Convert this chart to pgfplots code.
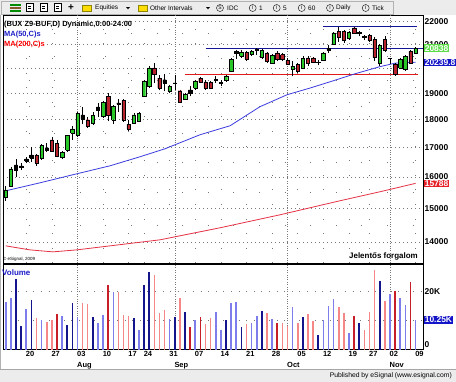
\documentclass[border=0pt]{standalone}
\usepackage{pgfplots}
\pgfplotsset{compat=1.18}
\usepackage{pgfplotstable}
\usepackage{fontspec}
\setmainfont{Liberation Sans}

\definecolor{cgreen}{RGB}{40,200,40}
\definecolor{cred}{RGB}{185,35,45}
\definecolor{ma50}{RGB}{60,60,225}
\definecolor{ma200}{RGB}{230,50,70}
\definecolor{hblue}{RGB}{20,20,150}
\definecolor{hred}{RGB}{225,25,25}
\definecolor{vlb}{RGB}{125,125,235}
\definecolor{vdb}{RGB}{20,20,140}
\definecolor{vlr}{RGB}{245,135,135}
\definecolor{vdr}{RGB}{200,30,40}
\definecolor{gridc}{RGB}{120,120,120}
\definecolor{barbg}{RGB}{236,236,236}
\definecolor{boxgreen}{RGB}{90,220,70}
\definecolor{boxblue}{RGB}{20,20,200}
\definecolor{boxred}{RGB}{230,30,40}
\definecolor{txtblue}{RGB}{30,30,200}

\pgfplotstableread{
i o h l c t
0 15350 15690 15230 15580 1
1 15709 16334 15677 16267 1
2 16234 16604 16002 16401 0
3 16334 16468 16234 16367 0
4 16536 16673 16468 16604 0
5 16638 17019 16502 16741 0
6 16741 16775 16367 16468 2
7 16628 17113 16570 17064 1
8 16914 17159 16844 16984 0
9 17265 17346 16855 16879 2
10 17147 17265 16649 16683 2
11 16649 16879 16604 16834 1
12 16914 17443 16855 17418 1
13 17515 17743 17265 17659 1
14 17418 18287 17372 18238 1
15 18026 18473 17842 18175 0
16 17989 18100 17696 17744 2
17 17866 18287 17805 18149 1
18 18362 18628 18100 18476 0
19 18112 18705 18063 18655 1
20 18871 19003 17926 18175 2
21 17989 18552 17842 18489 1
22 18590 18782 18276 18628 0
23 18705 18782 17915 17989 2
24 17830 17989 17587 17659 2
25 17866 18238 17830 18175 1
26 17926 18276 17903 18238 1
27 18871 19529 18860 19489 1
28 19263 20071 19200 20004 1
29 20004 20209 19397 19731 2
30 19597 19731 19105 19200 2
31 19409 19759 19066 19529 0
32 19066 19330 19015 19263 1
33 19370 19731 19132 19409 0
34 19093 19132 18617 18655 2
35 18782 19003 18743 18964 1
36 19015 19263 18871 19132 0
37 19200 19529 19132 19489 1
38 19597 19624 19397 19437 2
39 19449 19529 19132 19200 2
40 19421 19461 19172 19200 2
41 19509 19662 19397 19549 0
42 19370 19529 19263 19429 0
43 19501 19731 19449 19690 1
44 19864 20419 19840 20348 1
45 20600 20770 20390 20685 0
46 20487 20770 20419 20655 1
47 20655 20727 20306 20348 2
48 20558 20770 20516 20698 1
49 20727 20843 20558 20770 0
50 20445 20813 20390 20727 1
51 20629 20672 20209 20278 2
52 20209 20600 20181 20529 1
53 20629 20698 20278 20348 2
54 20558 20629 20278 20348 2
55 20306 20419 20140 20168 2
56 19975 20278 19662 20078 1
57 20140 20209 19812 19864 2
58 20004 20487 19975 20390 1
59 20419 20487 20099 20209 2
60 20419 20445 20209 20251 2
61 20223 20348 20112 20251 0
62 20306 20672 20278 20629 1
63 20748 20985 20642 20834 0
64 21015 21552 20985 21494 1
65 21552 21744 21114 21288 2
66 21565 21641 21071 21158 2
67 21245 21596 21201 21538 1
68 21715 21775 21464 21494 2
69 21464 21596 21346 21508 0
70 21288 21420 21201 21332 0
71 21390 21464 21114 21158 2
72 21201 21310 20306 20431 2
73 20181 21006 20099 20942 1
74 21201 21346 20685 20740 2
75 20410 20419 20181 20390 0
76 20140 20209 19690 19731 2
77 20004 20431 19975 20348 1
78 19934 20558 19893 20487 1
79 20698 20757 20181 20209 2
80 20629 20865 20600 20838 1
}\candles

\pgfplotstableread{
i v k
0 16.5 1
1 17.7 1
2 24.4 2
3 8.1 2
4 14.0 1
5 17.1 2
6 10.8 3
7 10.2 1
8 9.4 3
9 10.2 3
10 12.3 4
11 11.6 1
12 8.5 2
13 16.0 2
14 11.4 1
15 16.2 3
16 15.7 3
17 11.4 2
18 9.1 1
19 11.9 1
20 22.3 4
21 20.0 1
22 20.0 3
23 11.9 3
24 11.6 3
25 10.8 2
26 6.7 1
27 22.3 2
28 26.9 2
29 25.8 3
30 12.7 3
31 13.7 3
32 10.4 1
33 11.1 2
34 17.7 3
35 12.9 2
36 7.9 4
37 10.2 1
38 11.1 4
39 8.8 3
40 10.8 3
41 12.9 1
42 6.7 1
43 10.2 2
44 16.0 1
45 16.5 1
46 7.9 2
47 8.8 3
48 9.3 1
49 11.7 1
50 13.3 2
51 12.5 3
52 10.4 1
53 9.1 4
54 9.3 3
55 8.1 3
56 14.6 1
57 9.3 3
58 11.4 2
59 12.3 3
60 10.0 3
61 5.0 2
62 10.2 1
63 15.1 1
64 17.5 1
65 14.8 3
66 12.7 3
67 5.6 1
68 11.6 4
69 9.1 2
70 6.7 3
71 13.1 3
72 27.5 3
73 23.7 2
74 16.9 3
75 19.1 1
76 20.2 4
77 17.7 1
78 15.4 1
79 23.2 4
80 10.25 1
}\vol

\newcommand\drawcandle[1]{%
  \pgfplotstablegetelem{#1}{o}\of\candles \edef\vo{\pgfplotsretval}%
  \pgfplotstablegetelem{#1}{h}\of\candles \edef\vh{\pgfplotsretval}%
  \pgfplotstablegetelem{#1}{l}\of\candles \edef\vl{\pgfplotsretval}%
  \pgfplotstablegetelem{#1}{c}\of\candles \edef\vc{\pgfplotsretval}%
  \pgfplotstablegetelem{#1}{t}\of\candles \edef\vt{\pgfplotsretval}%
  \pgfmathsetmacro\xa{#1-0.33}\pgfmathsetmacro\xb{#1+0.33}%
  \ifcase\vt\relax \def\bc{black}\or \def\bc{cgreen}\or \def\bc{cred}\fi
  \edef\temp{\noexpand\addplot[black, line width=0.6bp, forget plot] coordinates {(#1,\vl) (#1,\vh)};
    \noexpand\addplot[draw=black, fill=\bc, line width=0.45bp, forget plot] coordinates {(\xa,\vo) (\xb,\vo) (\xb,\vc) (\xa,\vc) (\xa,\vo)};}%
  \temp
}

\begin{document}
\begin{tikzpicture}
\useasboundingbox (0,0) rectangle (456bp,-382bp);
\fill[white] (0,0) rectangle (456bp,-382bp);
% toolbar
\fill[barbg] (0,0) rectangle (456bp,-15bp);
\draw[gray!60, line width=0.5bp] (1bp,-0.8bp) rectangle (393bp,-14.2bp);
\fill[green!55!black] (10bp,-3.5bp) rectangle (21bp,-5.5bp);
\fill[brown!70!black] (10bp,-6.5bp) rectangle (21bp,-8.5bp);
\fill[green!55!black] (10bp,-9.5bp) rectangle (21bp,-11.5bp);
\foreach \xx in {26,40,54}{\draw[black, line width=0.5bp, fill=white] (\xx bp,-3.5bp) rectangle ++(7bp,-8bp);
  \draw[black, line width=0.4bp] ([xshift=2bp,yshift=-3bp]\xx bp,-3.5bp) -- ++(3bp,0) ([xshift=2bp,yshift=-5bp]\xx bp,-3.5bp) -- ++(3bp,0);}
\node[font=\bfseries\fontsize{10}{10}\selectfont] at (71bp,-7.6bp) {+};
\fill[yellow!80!orange, draw=olive, line width=0.4bp] (82bp,-5bp) rectangle (91bp,-11.5bp);
\node[anchor=west, inner sep=0, font=\fontsize{6.5}{7}\selectfont] at (95bp,-8bp) {Equities};
\fill[black] (126bp,-7bp) -- (130bp,-7bp) -- (128bp,-9.3bp) -- cycle;
\fill[yellow!80!orange, draw=olive, line width=0.4bp] (138bp,-5bp) rectangle (147bp,-11.5bp);
\node[anchor=west, inner sep=0, font=\fontsize{6.5}{7}\selectfont] at (150bp,-8bp) {Other Intervals};
\fill[black] (206bp,-7bp) -- (210bp,-7bp) -- (208bp,-9.3bp) -- cycle;
\foreach \cx/\lt/\tx/\tt in {220/S/227/IDC, 252.7/I/259/1, 276.7/I/283/5, 301.7/I/308/60, 330/I/336/Daily, 365.7/I/372/Tick}{
  \node[circle, draw, line width=0.4bp, inner sep=0pt, minimum size=7bp, font=\fontsize{5}{5}\selectfont] at (\cx bp,-8bp) {\lt};
  \node[anchor=west, inner sep=0, font=\fontsize{6.5}{7}\selectfont] at (\tx bp,-8bp) {\tt};
}
% status bar
\fill[barbg] (0,-369bp) rectangle (456bp,-382bp);
\draw[gray!70, line width=0.5bp] (0,-369bp) -- (456bp,-369bp);
\node[anchor=east, inner sep=0, font=\fontsize{6.8}{8}\selectfont] at (452bp,-376bp) {Published by eSignal (www.esignal.com)};
\draw[gray!60, line width=0.6bp] (0.6bp,-15bp) -- (0.6bp,-369bp);

\begin{axis}[
  at={(3bp,-263bp)}, anchor=south west, scale only axis,
  width=420.3bp, height=248bp,
  xmin=-0.53, xmax=81.5,
  ymode=log, ymin=13409, ymax=22304,
  axis line style={black, line width=0.7bp},
  tick style={draw=none},
  ytick={14000,15000,16000,17000,18000,19000,20000,21000,22000},
  yticklabels={\textbf{14000},\textbf{15000},\textbf{16000},\textbf{17000},\textbf{18000},\textbf{19000},,\textbf{21000},\textbf{22000}},
  yticklabel pos=right,
  yticklabel style={font=\fontsize{8.5}{9}\selectfont, anchor=west, inner sep=0pt, xshift=1.2bp},
  minor ytick={14500,15500,16500,17500,18500,19500,20500,21500},
  ymajorgrids, yminorgrids,
  major y grid style={gridc, line width=0.6bp, dash pattern=on 0.6bp off 3.4bp},
  minor y grid style={gridc, line width=0.6bp, dash pattern=on 0.6bp off 25bp},
  xtick={4,9,19,24,27,32,37,42,47,52,57,62,67,71,80},
  xticklabels={},
  xmajorgrids,
  major x grid style={gridc, line width=0.6bp, dash pattern=on 0.6bp off 14bp},
  extra x ticks={14,33,55,75},
  extra x tick labels={},
  extra x tick style={grid=major, major x grid style={gridc, line width=0.6bp, dash pattern=on 0.6bp off 1.8bp}},
]
\addplot[hblue, line width=1bp, forget plot] coordinates {(62,21788) (80.2,21788)};
\addplot[hblue, line width=1bp, forget plot] coordinates {(39,20840) (81.5,20840)};
\addplot[hred, line width=1bp, forget plot] coordinates {(35,19720) (80.4,19720)};
\addplot[ma50, line width=0.8bp, forget plot] coordinates {(0,15548) (6.7,15806) (13.9,16101) (20.35,16367) (26.2,16673) (31.1,16949) (37.9,17443) (43.8,17771) (49.6,18476) (54.9,18937) (59.4,19200) (63.3,19449) (68.2,19771) (73,20057) (76,20202) (80,20239.8)};
\addplot[ma200, line width=0.8bp, forget plot] coordinates {(0,13888) (4.7,13774) (9.2,13717) (13.9,13774) (20.4,13888) (30.1,14060) (41.8,14411) (53.5,14801) (65.2,15233) (73,15517) (80,15788)};
\pgfplotsinvokeforeach{0,...,80}{\drawcandle{#1}}
\coordinate (pg) at (axis cs:81.5,20838);
\coordinate (pb) at (axis cs:81.5,20239.8);
\coordinate (pr) at (axis cs:81.5,15788);
\end{axis}

\begin{axis}[
  at={(3bp,-349.5bp)}, anchor=south west, scale only axis,
  width=420.3bp, height=85.5bp,
  xmin=-0.53, xmax=81.5, ymin=0, ymax=29.6,
  axis line style={black, line width=0.7bp},
  tick style={draw=none},
  ytick={10,20}, yticklabels={},
  ymajorgrids,
  major y grid style={gridc, line width=0.6bp, dash pattern=on 0.6bp off 7bp},
  xtick={4,9,14,19,24,27,32,37,42,47,52,57,62,67,71,75,80},
  xticklabels={\textbf{20},\textbf{27},\textbf{03},\textbf{10},\textbf{17},\textbf{24},\textbf{31},\textbf{07},\textbf{14},\textbf{21},\textbf{28},\textbf{05},\textbf{12},\textbf{19},\textbf{27},\textbf{02},\textbf{09}},
  xticklabel style={font=\fontsize{7.5}{8}\selectfont, anchor=north west, inner sep=0pt, xshift=-0.5bp, yshift=-2bp},
  extra x ticks={14,33,55,75},
  extra x tick labels={\textbf{Aug},\textbf{Sep},\textbf{Oct},\textbf{Nov}},
  extra x tick style={grid=major, major x grid style={gridc, line width=0.6bp, dash pattern=on 0.6bp off 1.8bp}, xticklabel style={yshift=-10.5bp}},
]
\addplot[ycomb, vlb, line width=1.6bp, forget plot, restrict expr to domain={\thisrow{k}}{1:1}] table[x=i, y=v]{\vol};
\addplot[ycomb, vdb, line width=1.6bp, forget plot, restrict expr to domain={\thisrow{k}}{2:2}] table[x=i, y=v]{\vol};
\addplot[ycomb, vlr, line width=1.6bp, forget plot, restrict expr to domain={\thisrow{k}}{3:3}] table[x=i, y=v]{\vol};
\addplot[ycomb, vdr, line width=1.6bp, forget plot, restrict expr to domain={\thisrow{k}}{4:4}] table[x=i, y=v]{\vol};
\coordinate (vb) at (axis cs:81.5,10.25);
\coordinate (v20) at (axis cs:81.5,20);
\coordinate (v0) at (axis cs:81.5,0);
\end{axis}

% right-side value boxes
\node[anchor=west, fill=boxgreen, text=white, inner sep=0.8bp, font=\bfseries\fontsize{8.5}{9}\selectfont] at ([xshift=0.5bp]pg) {20838};
\node[anchor=west, fill=boxblue, text=white, inner sep=0.8bp, font=\bfseries\fontsize{8.5}{9}\selectfont] at ([xshift=0.5bp]pb) {20239.8};
\node[anchor=west, fill=boxred, text=white, inner sep=0.8bp, font=\bfseries\fontsize{8.5}{9}\selectfont] at ([xshift=0.5bp]pr) {15788};
\node[anchor=west, fill=boxblue, text=white, inner sep=0.8bp, font=\bfseries\fontsize{8.5}{9}\selectfont] at ([xshift=0.5bp]vb) {10.25K};
\node[anchor=west, inner sep=0pt, font=\bfseries\fontsize{8.5}{9}\selectfont] at ([xshift=1.2bp]v20) {20K};
\node[anchor=south west, inner sep=0pt, font=\bfseries\fontsize{8.5}{9}\selectfont] at ([xshift=1.2bp,yshift=2bp]v0) {0};

% panel texts
\node[anchor=base west, inner sep=0, font=\bfseries\fontsize{7.5}{9}\selectfont] at (4bp,-26bp) {(BUX Z9-BUF,D) Dynamic,0:00-24:00};
\node[anchor=base west, inner sep=0, text=txtblue, font=\bfseries\fontsize{7.5}{9}\selectfont] at (4bp,-36bp) {MA(50,C)s};
\node[anchor=base west, inner sep=0, text=red, font=\bfseries\fontsize{7.5}{9}\selectfont] at (4bp,-46.5bp) {MA(200,C)s};
\node[anchor=base east, inner sep=0, font=\bfseries\fontsize{8}{9}\selectfont] at (418bp,-258bp) {Jelentős forgalom};
\node[anchor=base west, inner sep=0, font=\fontsize{4.5}{5}\selectfont] at (3bp,-260bp) {© eSignal, 2009};
\node[anchor=base west, inner sep=0, text=txtblue, font=\bfseries\fontsize{8}{9}\selectfont] at (2bp,-275bp) {Volume};
\end{tikzpicture}
\end{document}
